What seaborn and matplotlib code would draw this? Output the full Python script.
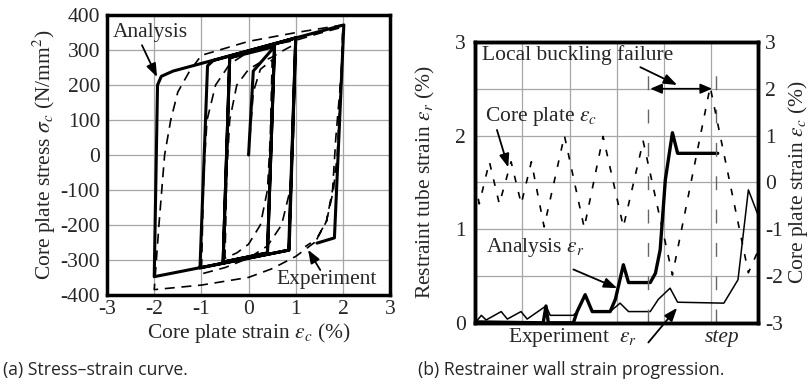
import matplotlib
matplotlib.use("Agg")
import numpy as np
import pandas as pd
import seaborn as sns
import matplotlib.pyplot as plt

# (a) hysteresis, analysis (thick solid) and experiment (dashed)
ana_strain = [0, 0.1, 0.55, 0.4, -0.54, -0.4, 0.55, 0.4, -0.54, -0.4, 1.0, 0.85, -1.03,
              -0.87, -0.75, 1.0, 0.86, -2.0, -1.93, -1.85, -1.6, 2.02, 1.82, 1.45]
ana_stress = [0, 240, 310, -280, -306, 278, 310, -280, -306, 278, 335, -272, -323,
              255, 270, 335, -272, -348, 200, 225, 240, 372, -237, -252]

exp_strain = [0, 0.1, 0.25, 0.5, 0.46, 0.4, 0.25, 0.0, -0.25, -0.5,
              -0.46, -0.4, -0.25, 0.0, 0.25, 0.5, 0.75, 1.0,
              0.95, 0.88, 0.7, 0.4, 0.0, -0.5, -1.0,
              -0.95, -0.88, -0.7, -0.4, 0.0, 0.5, 1.0, 1.5, 2.0,
              1.97, 1.88, 1.8, 1.65, 1.4, 1.0, 0.5, 0.0, -1.0, -2.0,
              -1.9, -1.78, -1.65, -1.5, -1.25, -1.0, 0.0, 1.0, 2.0,
              1.97, 1.85, 1.78, 1.65, 1.45, 1.2]
exp_stress = [0, 180, 245, 272, 50, -100, -200, -255, -280, -295,
              -50, 100, 200, 245, 265, 280, 300, 318,
              50, -100, -200, -260, -295, -322, -340,
              -50, 100, 200, 260, 295, 315, 328, 348, 366,
              250, 0, -100, -190, -250, -290, -325, -350, -372, -385,
              -200, 0, 100, 180, 240, 285, 325, 350, 372,
              240, 50, -100, -190, -240, -262]

# (b) strain progression vs step
core_step = [0, 0.085, 0.3, 0.51, 0.76, 0.975, 1.19, 1.46, 1.89, 2.31, 2.71, 3.14,
             3.56, 4.18, 4.98, 5.79, 6.0]
core_eps = [0.0, -0.46, 0.44, -0.46, 0.44, -0.46, 0.44, -0.95, 1.0, -0.97, 0.98, -0.95,
            0.88, -1.98, 2.04, -1.93, -1.45]

ana_step = [0, 1.44, 1.5, 1.55, 2.08, 2.16, 2.33, 2.48, 2.86, 2.97, 3.14, 3.25, 3.71,
            3.82, 3.92, 4.03, 4.18, 4.29, 5.14]
ana_epsr = [0.01, 0.0, 0.18, 0.0, 0.0, 0.12, 0.30, 0.12, 0.12, 0.25, 0.62, 0.43, 0.43,
            0.53, 0.78, 1.53, 2.03, 1.81, 1.81]

exp_step = [0, 0.13, 0.23, 0.55, 0.68, 0.97, 1.1, 1.5, 1.59, 2.08, 2.16, 2.33, 2.48,
            2.86, 3.07, 3.25, 3.71, 3.88, 4.13, 4.29, 5.27, 5.57, 5.79, 5.98]
exp_epsr = [0.0, 0.08, 0.03, 0.12, 0.04, 0.12, 0.04, 0.18, 0.08, 0.08, 0.12, 0.30, 0.12,
            0.12, 0.21, 0.12, 0.12, 0.25, 0.37, 0.22, 0.21, 0.46, 1.42, 1.17]

failure_steps = [3.67, 5.11]

sns.set_style("white")
plt.rcParams["font.family"] = ["Liberation Serif", "DejaVu Serif"]
plt.rcParams["mathtext.fontset"] = "stix"
plt.rcParams["axes.unicode_minus"] = False
fs = 15.5

fig = plt.figure(figsize=(8.11, 3.88), dpi=100)
ax1 = fig.add_axes([0.132, 0.240, 0.349, 0.721])
ax2 = fig.add_axes([0.586, 0.168, 0.349, 0.724])

arrow = dict(arrowstyle="-|>,head_length=0.8,head_width=0.3", color="k", lw=1.3,
             shrinkA=0, shrinkB=0)

# ---- (a) ----
sns.lineplot(x=exp_strain, y=exp_stress, sort=False, estimator=None, ax=ax1,
             color="k", lw=1.2, linestyle=(0, (6, 4)))
sns.lineplot(x=ana_strain, y=ana_stress, sort=False, estimator=None, ax=ax1,
             color="k", lw=2.2)
ax1.set_xlim(-3, 3)
ax1.set_ylim(-400, 400)
ax1.set_xticks(range(-3, 4))
ax1.set_yticks(range(-400, 401, 100))
ax1.grid(True, color="0.65", lw=0.9)
ax1.tick_params(axis="x", length=0, pad=4, labelsize=fs)
ax1.tick_params(axis="y", length=0, pad=5, labelsize=fs)
ax1.set_xlabel(r"Core plate strain $\varepsilon_c$ (%)", fontsize=fs, labelpad=1)
ax1.set_ylabel(r"Core plate stress $\sigma_c$ (N/mm$^2$)", fontsize=fs, labelpad=2)
for s in ax1.spines.values():
    s.set_linewidth(2.5)
    s.set_color("k")
ax1.text(-2.88, 349, "Analysis", fontsize=fs, va="center", ha="left")
ax1.annotate("", xy=(-1.94, 223), xytext=(-2.26, 314), arrowprops=arrow)
ax1.text(0.6, -357, "Experiment", fontsize=fs, va="center", ha="left")
ax1.annotate("", xy=(1.26, -271), xytext=(1.52, -329), arrowprops=arrow)

# ---- (b) ----
ax2r = ax2.twinx()
sns.lineplot(x=core_step, y=core_eps, sort=False, estimator=None, ax=ax2r,
             color="k", lw=1.2, linestyle=(0, (4, 6)))
sns.lineplot(x=exp_step, y=exp_epsr, sort=False, estimator=None, ax=ax2,
             color="k", lw=1.1)
sns.lineplot(x=ana_step, y=ana_epsr, sort=False, estimator=None, ax=ax2,
             color="k", lw=2.4)
for xs in failure_steps:
    ax2.plot([xs, xs], [0, 2.8], color="0.4", lw=1.0, linestyle=(0, (10, 14)))
ax2.set_xlim(0, 6)
ax2.set_ylim(0, 3)
ax2r.set_ylim(-3, 3)
ax2.set_xticks(range(1, 6))
ax2.set_xticklabels([])
ax2.set_yticks(np.arange(0, 3.01, 0.5))
ax2.set_yticklabels(["0", "", "1", "", "2", "", "3"])
ax2r.set_yticks(range(-3, 4))
ax2.grid(True, color="0.65", lw=0.9)
ax2.tick_params(length=0, pad=7, labelsize=fs)
ax2r.tick_params(length=0, pad=5, labelsize=fs)
ax2.set_ylabel(r"Restraint tube strain $\varepsilon_r$ (%)", fontsize=fs, labelpad=13)
ax2r.set_ylabel(r"Core plate strain $\varepsilon_c$ (%)", fontsize=fs, labelpad=2)
for a in (ax2, ax2r):
    for s in a.spines.values():
        s.set_linewidth(2.5)
        s.set_color("k")

ax2.text(0.15, 2.86, "Local buckling failure", fontsize=fs, va="center", ha="left")
ax2.annotate("", xy=(4.28, 2.54), xytext=(3.5, 2.73), arrowprops=arrow)
ax2.annotate("", xy=(5.02, 2.5), xytext=(3.71, 2.5),
             arrowprops=dict(arrowstyle="<|-|>,head_length=0.7,head_width=0.3",
                             color="k", lw=1.2, shrinkA=0, shrinkB=0))
ax2.text(0.2, 2.2, r"Core plate $\varepsilon_c$", fontsize=fs, va="center", ha="left")
ax2.annotate("", xy=(0.70, 1.66), xytext=(0.46, 2.06), arrowprops=arrow)
ax2.text(0.23, 0.8, r"Analysis $\varepsilon_r$", fontsize=fs, va="center", ha="left")
ax2.annotate("", xy=(3.01, 0.37), xytext=(2.08, 0.57), arrowprops=arrow)
ax2.text(0.7, -0.16, r"Experiment  $\varepsilon_r$", fontsize=fs, va="center",
         ha="left", clip_on=False)
ax2.annotate("", xy=(4.28, 0.16), xytext=(3.67, -0.21), arrowprops=arrow,
             annotation_clip=False)
ax2.text(5.24, -0.16, "step", fontsize=fs, style="italic", va="center", ha="center",
         clip_on=False)

fig.text(0.004, 0.046, "(a) Stress–strain curve.", fontsize=12.7, family="Open Sans",
         va="center", ha="left")
fig.text(0.515, 0.046, "(b) Restrainer wall strain progression.", fontsize=12.7,
         family="Open Sans", va="center", ha="left")

fig.savefig("out.png", dpi=100)
